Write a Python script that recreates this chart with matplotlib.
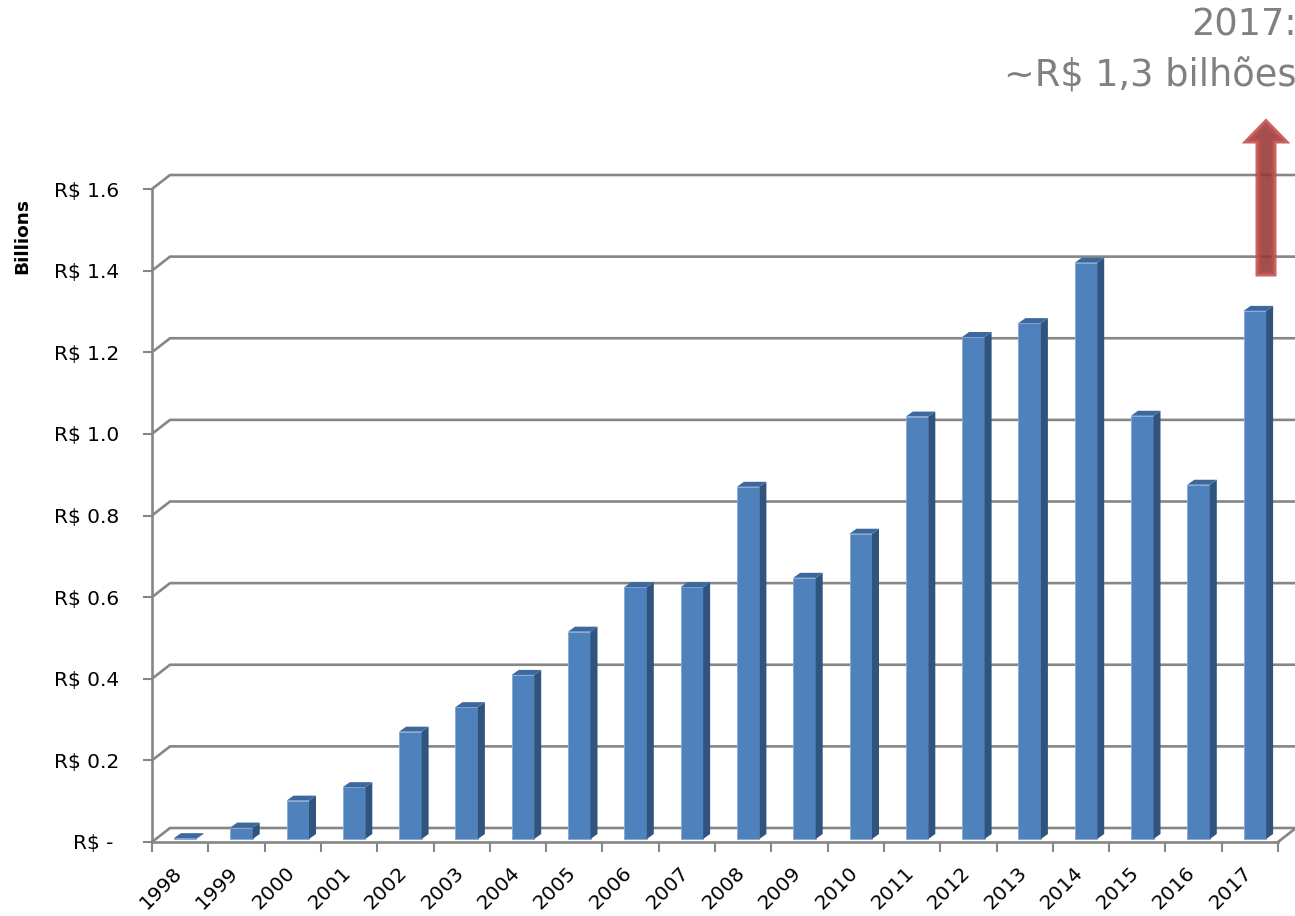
import matplotlib
matplotlib.use('Agg')
import matplotlib.pyplot as plt
from matplotlib.patches import Polygon
import numpy as np

# ---------------- data ----------------
years = [str(y) for y in range(1998, 2018)]
values = [0.002, 0.028, 0.094, 0.127, 0.263, 0.323, 0.402, 0.508, 0.617, 0.617,
          0.863, 0.640, 0.748, 1.035, 1.230, 1.264, 1.412, 1.037, 0.868, 1.294]
y_ticks = [0.0, 0.2, 0.4, 0.6, 0.8, 1.0, 1.2, 1.4, 1.6]
y_labels = ['R$ - ', 'R$ 0.2', 'R$ 0.4', 'R$ 0.6', 'R$ 0.8',
            'R$ 1.0', 'R$ 1.2', 'R$ 1.4', 'R$ 1.6']
y_title = 'Billions'
annot_lines = ['2017:', '~R$ 1,3 bilhões']

# ---------------- style ----------------
plt.rcParams['font.family'] = ['DejaVu Sans']
GRID = '#868686'
FRONT = '#4F81BD'
SIDE = '#31547F'
TOP = '#3C689E'
EDGE = '#86A9D6'

W, H = 1295, 916
fig = plt.figure(figsize=(W / 100, H / 100), dpi=100)
L, R, B, T = 152, 1278, 842, 189
ax = fig.add_axes([L / W, 1 - B / H, (R - L) / W, (B - T) / H])
n = len(years)
ax.set_xlim(-0.5, n - 0.5)
ax.set_ylim(0, 1.6)

px_x = (R - L) / n
px_y = (B - T) / 1.6
wall_dx, wall_dy = 18 / px_x, 14 / px_y
bar_dx, bar_dy = 7 / px_x, 5 / px_y
bar_off_x, bar_off_y = 5 / px_x, 3 / px_y
bar_w = 22.5 / px_x

# back wall gridlines + left side wall bends
for v in y_ticks:
    ax.plot([-0.5, -0.5 + wall_dx, n - 0.5 + wall_dx], [v, v + wall_dy, v + wall_dy],
            color=GRID, lw=1.9, clip_on=False, zorder=1, solid_capstyle='butt')
ax.plot([n - 0.5, n - 0.5 + wall_dx], [0, wall_dy], color=GRID, lw=1.9,
        clip_on=False, zorder=1)

# bars (front faces)
x = np.arange(n) + bar_off_x
ax.bar(x, values, width=bar_w, bottom=bar_off_y, color=FRONT,
       edgecolor=EDGE, linewidth=0.6, zorder=3)
for xi, v in zip(x, values):
    x0, x1 = xi - bar_w / 2, xi + bar_w / 2
    y0, y1 = bar_off_y, bar_off_y + v
    side = Polygon([(x1, y0), (x1 + bar_dx, y0 + bar_dy), (x1 + bar_dx, y1 + bar_dy), (x1, y1)],
                   closed=True, facecolor=SIDE, edgecolor='none', zorder=3, clip_on=False)
    top = Polygon([(x0, y1), (x1, y1), (x1 + bar_dx, y1 + bar_dy), (x0 + bar_dx, y1 + bar_dy)],
                  closed=True, facecolor=TOP, edgecolor='none', zorder=3, clip_on=False)
    ax.add_patch(side)
    ax.add_patch(top)

# spines
for s in ['top', 'right']:
    ax.spines[s].set_visible(False)
for s in ['left', 'bottom']:
    ax.spines[s].set_color(GRID)
    ax.spines[s].set_linewidth(1.9)
    ax.spines[s].set_zorder(2)

# y axis
ax.set_yticks(y_ticks)
ax.set_yticklabels(y_labels)
ax.tick_params(axis='y', direction='out', length=6.5, width=1.5, color=GRID,
               pad=17, labelsize=14.5, labelcolor='black')

# x axis: ticks at boundaries, labels at centres
ax.set_xticks(np.arange(n + 1) - 0.5)
ax.set_xticklabels([''] * (n + 1))
ax.tick_params(axis='x', which='major', direction='out', length=7, width=1.5, color=GRID)
ax.set_xticks(np.arange(n) - 0.02, minor=True)
ax.set_xticklabels(years, minor=True, rotation=45, ha='right', va='center',
                   rotation_mode='anchor', fontsize=14.5)
ax.tick_params(axis='x', which='minor', length=0, pad=20)

# y title
fig.text(22 / W, 1 - 236 / H, y_title, rotation=90, fontweight='bold',
         fontsize=13.3, ha='center', va='center')

# annotation text
fig.text(1297 / W, 1 - 35 / H, annot_lines[0], ha='right', va='baseline',
         fontsize=26.5, color='#808080')
fig.text(1297 / W, 1 - 87 / H, annot_lines[1], ha='right', va='baseline',
         fontsize=26.5, color='#808080')

# arrow (pixel layout converted to inches)
cx, tip, hb, bot = 1266, 122, 141, 274
hw, sw = 18.5, 8
pts = [(cx, tip), (cx + hw, hb), (cx + sw, hb), (cx + sw, bot), (cx - sw, bot),
       (cx - sw, hb), (cx - hw, hb)]
pts_in = [(px / 100, (H - py) / 100) for px, py in pts]
arrow = Polygon(pts_in, closed=True, facecolor='#953735', edgecolor='#C0504D',
                linewidth=3.6, alpha=0.88, joinstyle='miter',
                transform=fig.dpi_scale_trans, zorder=10)
fig.patches.append(arrow)

fig.savefig('out.png', dpi=100)
